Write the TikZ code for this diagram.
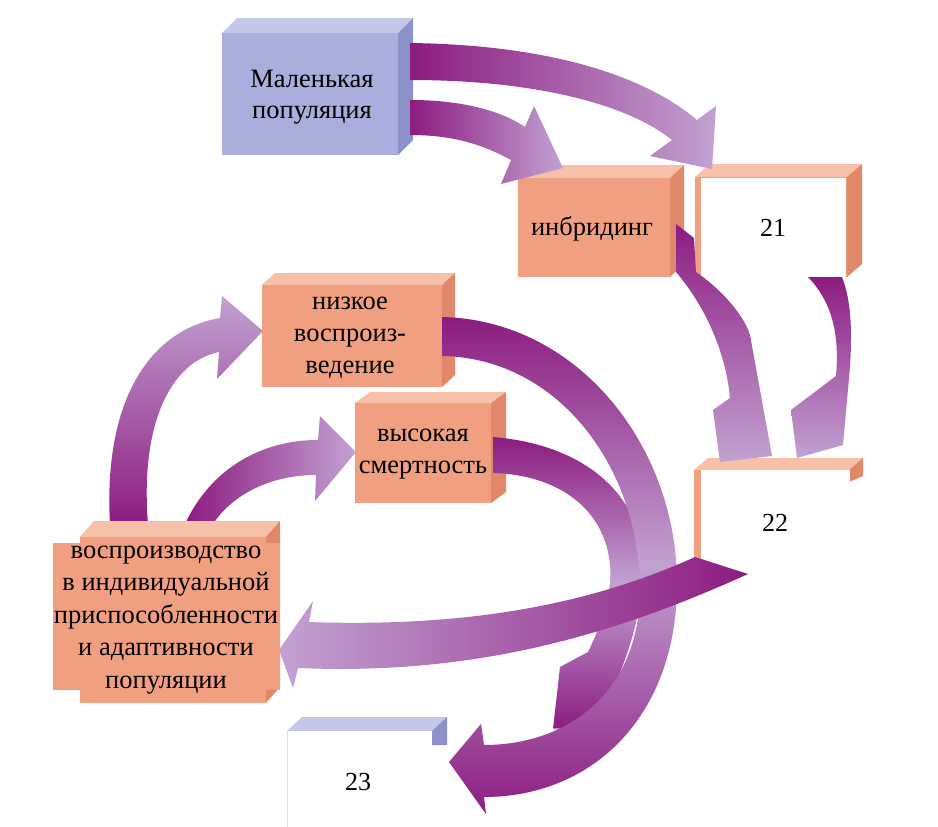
\documentclass[tikz,border=0pt]{standalone}
\usepackage{fontspec}
\setmainfont{Liberation Serif}
\definecolor{lavF}{RGB}{170,174,220}
\definecolor{lavT}{RGB}{196,199,234}
\definecolor{lavS}{RGB}{140,145,202}
\definecolor{orF}{RGB}{240,160,128}
\definecolor{orT}{RGB}{247,192,168}
\definecolor{orS}{RGB}{226,136,106}
\definecolor{arD}{RGB}{140,28,128}
\definecolor{arL}{RGB}{194,162,210}
\definecolor{arO}{RGB}{232,184,232}
% front face x1 y1 x2 y2, colours front/top/side, depth dx dy
\newcommand{\cuboid}[9]{%
  \fill[#6] (#1,#2) -- ++(#8,-#9) -- (#3+#8,#2-#9) -- (#3,#2) -- cycle;
  \fill[#7] (#3,#2) -- (#3+#8,#2-#9) -- (#3+#8,#4-#9) -- (#3,#4) -- cycle;
  \fill[#5] (#1,#2) rectangle (#3,#4);}
\tikzset{
  lbl/.style={font=\fontsize{26.5}{31.5}\selectfont, align=center, text=black, inner sep=0pt},
  num/.style={font=\fontsize{26}{30}\selectfont, text=black, inner sep=0pt},
}
\begin{document}
\begin{tikzpicture}[x=1pt,y=-1pt]
\useasboundingbox (0,0) rectangle (938,827);
\fill[white] (0,0) rectangle (938,827);

% arrows from the bottom-left box (under its top face)
\shade[top color=arL, bottom color=arD] (110,524) .. controls (103,400) and (150,330) .. (220,318) -- (222,296) -- (263,331) -- (217,379) -- (219,352) .. controls (170,362) and (140,425) .. (148,524) -- cycle;
\shade[left color=arD, right color=arL] (185,524) .. controls (210,470) and (260,440) .. (318,440) -- (320,416) -- (356,452) -- (315,501) -- (316,475) .. controls (270,475) and (232,495) .. (213,524) -- cycle;

% boxes
\cuboid{222}{33}{398}{155}{lavF}{lavT}{lavS}{15}{15}
\node[lbl] (small) at (312,97) {Маленькая\\популяция};

\cuboid{518}{178}{670}{277}{orF}{orT}{orS}{14}{13}
\node[lbl] (inbr) at (592,229) {инбридинг};

\cuboid{695}{177}{847}{277}{orF}{orT}{orS}{15}{13}
\fill[white] (701,178) rectangle (846,277);
\node[num] (n21) at (773,228) {21};

\cuboid{262}{285}{442}{387}{orF}{orT}{orS}{13}{12}
\node[lbl, font=\fontsize{26.5}{32}\selectfont] (low) at (350,338) {низкое\\воспроиз-\\ведение};

\cuboid{355}{403}{491}{503}{orF}{orT}{orS}{15}{11}
\node[lbl] (high) at (423,454) {высокая\\смертность};

% 22
\fill[orT] (694,470) -- (708,458) -- (863,458) -- (849,470) -- cycle;
\fill[orS] (849,470) -- (863,458) -- (863,476) -- (849,482) -- cycle;
\fill[orF] (694,470) rectangle (701,572);
\fill[white] (701,470) rectangle (850,572);
\node[num] (n22) at (775,523) {22};

% bottom-left box
\cuboid{80}{537}{266}{703}{orF}{orT}{orS}{14}{16}
\fill[orF] (53,543) rectangle (280,690);
\node[lbl, font=\fontsize{26.5}{32.5}\selectfont] (repr) at (166,620) {воспроизводство\\в индивидуальной\\приспособленности\\и адаптивности\\популяции};

% 23
\fill[lavT] (287,731) -- (302,717) -- (447,717) -- (432,731) -- cycle;
\fill[lavS] (432,731) -- (447,717) -- (447,745) -- (432,745) -- cycle;
\fill[white] (287,731) rectangle (432,827);
\draw[black!12, line width=1] (287,731) -- (287,827);
\node[num] (n23) at (358,782) {23};

% arrows from the small population
\shade[left color=arD, right color=arL] (410,43) .. controls (560,45) and (650,80) .. (697,120) -- (716,106) -- (712,169) -- (650,156) -- (672,140) .. controls (630,106) and (540,80) .. (410,80) -- cycle;
\shade[left color=arD, right color=arL] (410,100) .. controls (460,100) and (500,110) .. (525,127) -- (534,106) -- (563,168) -- (501,184) -- (511,160) .. controls (480,143) and (450,135) .. (410,135) -- cycle;

% arrows into 22
\shade[top color=arD, bottom color=arL] (676,224) -- (694,238) -- (696,272) .. controls (725,292) and (745,318) .. (750,335) -- (772,456) -- (720,462) -- (713,410) -- (730,398) .. controls (725,345) and (700,300) .. (676,272) -- cycle;
\shade[top color=arD, bottom color=arL] (808,277) .. controls (830,300) and (840,330) .. (836,376) -- (791,410) -- (797,458) -- (843,445) -- (850,367) .. controls (853,320) and (849,295) .. (842,277) -- cycle;

% arcs towards 23
\shade[top color=arD, bottom color=arD, middle color=arL] (493,437) .. controls (590,445) and (645,500) .. (643,570) .. controls (642,620) and (622,675) .. (602,710) -- (616,729) -- (553,729) -- (560,667) -- (588,652) .. controls (606,615) and (612,585) .. (610,565) .. controls (605,510) and (560,475) .. (493,473) -- cycle;
\draw[arO, line width=1.2] (640,610) .. controls (635,650) and (620,680) .. (602,710) -- (616,729) -- (553,729);
\shade[top color=arD, bottom color=arD, middle color=arL] (442,317) .. controls (580,320) and (680,450) .. (677,590) .. controls (674,720) and (590,797) .. (484,797) -- (486,814) -- (449,762) -- (481,724) -- (484,745) .. controls (570,745) and (640,690) .. (640,590) .. controls (640,470) and (560,358) .. (442,356) -- cycle;

% from 22 back to the bottom-left box
\shade[left color=arL, right color=arD] (695,557) .. controls (600,600) and (480,628) .. (309,622) -- (313,601) -- (279,650) -- (293,688) -- (298,668) .. controls (480,676) and (620,632) .. (748,574) -- cycle;
\end{tikzpicture}
\end{document}
